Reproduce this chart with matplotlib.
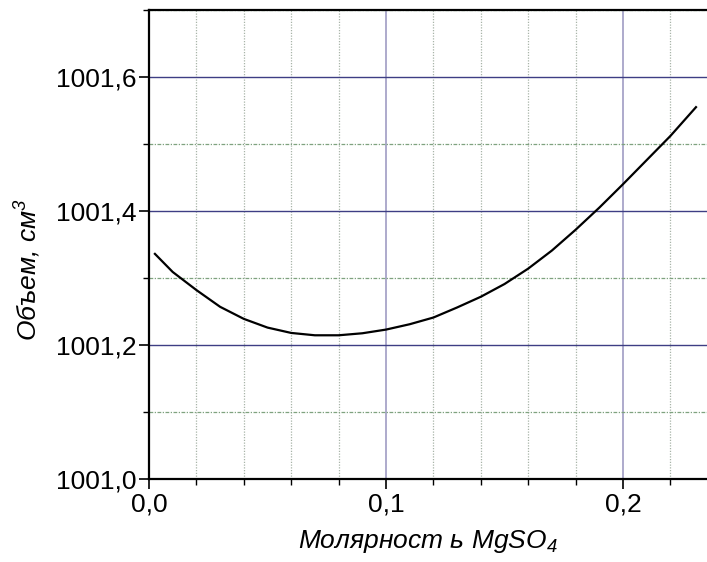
import matplotlib
matplotlib.use("Agg")
import matplotlib.pyplot as plt
from matplotlib.ticker import MultipleLocator, FuncFormatter

# curve (molality, volume cm^3)
molality = [0.0025, 0.010, 0.020, 0.030, 0.040, 0.050, 0.060, 0.070, 0.080,
            0.090, 0.100, 0.110, 0.120, 0.130, 0.140, 0.150, 0.160, 0.170,
            0.180, 0.190, 0.200, 0.210, 0.220, 0.2308]
volume = [1001.336, 1001.309, 1001.282, 1001.257, 1001.239, 1001.226, 1001.218,
          1001.2145, 1001.2145, 1001.2175, 1001.223, 1001.231, 1001.241, 1001.256,
          1001.272, 1001.291, 1001.314, 1001.341, 1001.372, 1001.405, 1001.440,
          1001.476, 1001.512, 1001.555]

plt.rcParams["font.family"] = ["Liberation Sans", "DejaVu Sans"]
plt.rcParams["mathtext.fontset"] = "custom"
plt.rcParams["mathtext.rm"] = "Liberation Sans:italic"
plt.rcParams["mathtext.it"] = "Liberation Sans:italic"

fig = plt.figure(figsize=(7.07, 5.62), dpi=100)
ax = fig.add_axes([149 / 707, 83 / 562, 558 / 707, 469 / 562])

ax.plot(molality, volume, color="black", lw=1.6, solid_joinstyle="round")

ax.set_xlim(0, 558 / 2370)
ax.set_ylim(1001.0, 1001.7)
ax.xaxis.set_major_locator(MultipleLocator(0.1))
ax.xaxis.set_minor_locator(MultipleLocator(0.02))
ax.yaxis.set_major_locator(MultipleLocator(0.2))
ax.yaxis.set_minor_locator(MultipleLocator(0.1))
ax.xaxis.set_major_formatter(FuncFormatter(lambda v, p: f"{v:.1f}".replace(".", ",")))
ax.yaxis.set_major_formatter(FuncFormatter(lambda v, p: f"{v:.1f}".replace(".", ",")))

# Origin-style grid: solid majors, dotted / dash-dot minors
ax.grid(True, axis="x", which="major", color="#a09cc4", lw=1.2, ls="-")
ax.grid(True, axis="y", which="major", color="#3e3e84", lw=1.0, ls="-")
ax.grid(True, axis="x", which="minor", color="#a8b4a8", lw=0.9, ls=(0, (1, 1.2)))
ax.grid(True, axis="y", which="minor", color="#7fa27f", lw=0.9, ls=(0, (3, 1.2, 1, 1.2)))
ax.set_axisbelow(True)

ax.spines["right"].set_visible(False)
for s in ("left", "bottom", "top"):
    ax.spines[s].set_linewidth(1.6)

ax.tick_params(axis="both", which="major", direction="out", length=7, width=1.2,
               labelsize=19, pad=2)
ax.tick_params(axis="both", which="minor", direction="out", length=4.5, width=1.0)
ax.tick_params(axis="x", which="major", pad=3)

ax.set_xlabel("Молярност ь MgSO$_4$", fontsize=19, style="italic", labelpad=8)
ax.set_ylabel("Объем, см$^3$", fontsize=19, style="italic")
ax.yaxis.set_label_coords(-0.19, 0.446)

fig.savefig("out.png", dpi=100)
